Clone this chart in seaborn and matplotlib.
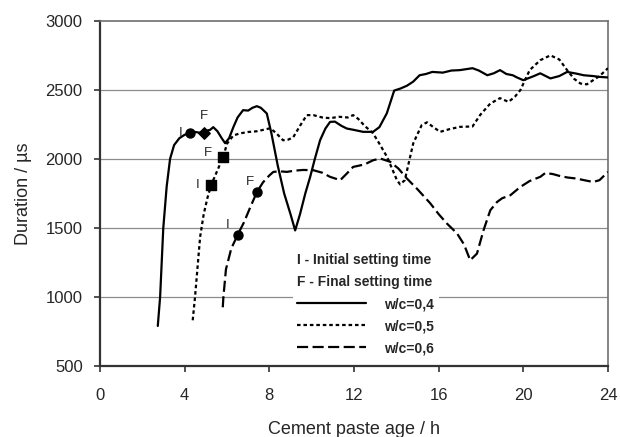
import matplotlib
matplotlib.use("Agg")
import matplotlib.pyplot as plt
from matplotlib.lines import Line2D
import numpy as np
import pandas as pd
import seaborn as sns

# Ultrasonic pulse duration vs. cement paste age for three water/cement ratios
x_04 = [2.73, 2.84, 2.99, 3.15, 3.31, 3.5, 3.75, 4.0, 4.26, 4.5, 4.7, 4.89, 5.05, 5.2, 5.35,
        5.55, 5.75, 5.91, 6.1, 6.3, 6.5, 6.76, 7.0, 7.2, 7.41, 7.6, 7.88, 8.1, 8.4, 8.7, 9.0,
        9.22, 9.45, 9.7, 9.93, 10.15, 10.4, 10.65, 10.87, 11.1, 11.4, 11.66, 12.0, 12.43,
        12.9, 13.2, 13.55, 13.9, 14.2, 14.5, 14.8, 15.1, 15.4, 15.7, 16.2, 16.6, 17.0, 17.6,
        17.9, 18.3, 18.6, 18.9, 19.2, 19.5, 19.7, 20.0, 20.5, 20.8, 21.28, 21.7, 22.07,
        22.5, 22.85, 23.3, 23.6, 24.0]
y_04 = [790, 1000, 1500, 1800, 2000, 2100, 2150, 2175, 2185, 2195, 2190, 2191, 2205, 2210, 2230,
        2200, 2150, 2114, 2150, 2230, 2300, 2353, 2350, 2370, 2382, 2370, 2329, 2184, 1950, 1750,
        1600, 1482, 1600, 1750, 1870, 2000, 2136, 2220, 2268, 2270, 2240, 2220, 2210, 2196,
        2196, 2230, 2330, 2495, 2510, 2530, 2560, 2606, 2615, 2630, 2625, 2640, 2643, 2657,
        2640, 2606, 2620, 2643, 2615, 2606, 2590, 2570, 2600, 2620, 2583, 2600, 2630,
        2618, 2606, 2600, 2594, 2590]

x_05 = [4.38, 4.49, 4.6, 4.73, 4.9, 5.08, 5.25, 5.5, 5.82, 6.0, 6.3, 6.62, 7.0, 7.4, 7.7, 8.04,
        8.3, 8.65, 8.9, 9.13, 9.45, 9.77, 10.08, 10.5, 10.87, 11.3, 11.7, 11.96, 12.2, 12.5,
        12.9, 13.24, 13.56, 14.03, 14.18, 14.4, 14.8, 15.2, 15.45, 15.75, 16.07, 16.5, 17.0,
        17.6, 17.97, 18.44, 18.9, 19.3, 19.6, 19.86, 20.3, 20.8, 21.28, 21.7, 22.07, 22.4,
        22.7, 23.0, 23.3, 23.6, 24.0]
y_05 = [831, 1000, 1200, 1435, 1600, 1720, 1810, 1900, 2015, 2110, 2170, 2185, 2195, 2200, 2210,
        2222, 2190, 2135, 2140, 2157, 2240, 2317, 2317, 2300, 2295, 2305, 2300, 2317, 2290,
        2240, 2186, 2100, 2015, 1846, 1815, 1846, 2113, 2245, 2265, 2230, 2196, 2215, 2232,
        2235, 2320, 2401, 2440, 2413, 2450, 2498, 2643, 2715, 2750, 2720, 2643, 2580,
        2546, 2540, 2570, 2600, 2657]

x_06 = [5.8, 5.83, 5.95, 6.2, 6.51, 6.8, 7.1, 7.41, 7.7, 8.0, 8.19, 8.5, 8.83, 9.2, 9.6, 10.08,
        10.5, 10.87, 11.35, 11.7, 11.96, 12.5, 12.9, 13.24, 13.71, 14.1, 14.5, 15.0, 15.6,
        16.0, 16.39, 16.87, 17.2, 17.49, 17.81, 18.12, 18.44, 18.76, 19.0, 19.39, 19.86,
        20.3, 20.8, 21.04, 21.4, 21.75, 22.1, 22.5, 22.9, 23.3, 23.6, 24.0]
y_06 = [925, 1000, 1200, 1350, 1452, 1540, 1650, 1759, 1830, 1880, 1906, 1910, 1906, 1915, 1920,
        1918, 1900, 1870, 1846, 1900, 1942, 1960, 1990, 2003, 1979, 1930, 1858, 1780, 1679,
        1600, 1532, 1460, 1380, 1266, 1314, 1483, 1628, 1688, 1715, 1737, 1797, 1840, 1870,
        1898, 1890, 1875, 1865, 1858, 1845, 1833, 1846, 1906]

series_labels = ["w/c=0,4", "w/c=0,5", "w/c=0,6"]

# Setting times (initial I, final F) for each mix
initial_x = [4.26, 5.25, 6.51]
initial_y = [2185, 1810, 1452]
final_x = [4.89, 5.82, 7.41]
final_y = [2191, 2015, 1759]

x_ticks = [0, 4, 8, 12, 16, 20, 24]
y_ticks = [500, 1000, 1500, 2000, 2500, 3000]

sns.set_style("white")
plt.rcParams["font.family"] = ["Liberation Sans", "DejaVu Sans"]

df = pd.concat([
    pd.DataFrame({"age": x_04, "duration": y_04, "mix": series_labels[0]}),
    pd.DataFrame({"age": x_05, "duration": y_05, "mix": series_labels[1]}),
    pd.DataFrame({"age": x_06, "duration": y_06, "mix": series_labels[2]}),
], ignore_index=True)

dash_styles = {series_labels[0]: "", series_labels[1]: (1.6, 1.3), series_labels[2]: (5, 2)}

fig = plt.figure(figsize=(6.2, 4.37), dpi=100)
ax = fig.add_axes([0.1613, 0.1625, 0.8193, 0.7898])

for yv in y_ticks[1:-1]:
    ax.axhline(yv, color="#8c8c8c", lw=0.9, zorder=0)

sns.lineplot(data=df, x="age", y="duration", style="mix", dashes=dash_styles,
             color="black", linewidth=1.6, estimator=None, sort=False,
             legend=False, ax=ax, zorder=3)

ax.scatter(initial_x[:1], initial_y[:1], marker="o", s=42, color="black", zorder=4)
ax.scatter(final_x[:1], final_y[:1], marker="D", s=34, color="black", zorder=4)
ax.scatter([initial_x[1], final_x[1]], [initial_y[1], final_y[1]], marker="s", s=48,
           color="black", zorder=4)
ax.scatter([initial_x[2], final_x[2]], [initial_y[2], final_y[2]], marker="o", s=42,
           color="black", zorder=4)

# I / F annotations next to the markers
i_offsets = [(-7, 0), (-10, 0), (-7, 7)]
f_offsets = [(0, 12), (-11, 3), (-5, 7)]
for k in range(3):
    ax.annotate("I", (initial_x[k], initial_y[k]), xytext=i_offsets[k],
                textcoords="offset points", ha="center", va="center", fontsize=9.5)
    ax.annotate("F", (final_x[k], final_y[k]), xytext=f_offsets[k],
                textcoords="offset points", ha="center", va="center", fontsize=9.5)

ax.set_xlim(0, 24)
ax.set_ylim(500, 3000)
ax.set_xticks(x_ticks)
ax.set_yticks(y_ticks)
ax.tick_params(axis="both", direction="out", length=4.5, width=1.2, color="#333333",
               labelsize=12, pad=8, bottom=True, left=True)
ax.tick_params(axis="x", pad=11)
ax.set_xlabel("Cement paste age / h", fontsize=13, labelpad=13)
ax.set_ylabel("Duration / \u00b5s", fontsize=13, labelpad=10)

for side in ["left", "bottom"]:
    ax.spines[side].set_color("#333333")
    ax.spines[side].set_linewidth(1.6)
for side in ["top", "right"]:
    ax.spines[side].set_color("#6e6e6e")
    ax.spines[side].set_linewidth(1.2)

handles = [Line2D([], [], color="black", lw=1.6, linestyle="-"),
           Line2D([], [], color="black", lw=1.6, linestyle=(0, (1.6, 1.3))),
           Line2D([], [], color="black", lw=1.6, linestyle=(0, (5, 2)))]
leg = ax.legend(handles, series_labels, loc="upper left", bbox_to_anchor=(0.366, 0.36),
                title="I - Initial setting time\nF - Final setting time",
                alignment="left", frameon=True, facecolor="white", edgecolor="none",
                framealpha=1, fancybox=False, handlelength=5.0, handletextpad=1.3,
                labelspacing=0.58, borderpad=0.3,
                prop={"weight": "bold", "size": 10},
                title_fontproperties={"weight": "bold", "size": 10})
leg.get_title().set_linespacing(1.75)
leg.set_zorder(2)

fig.savefig("out.png", dpi=100)
